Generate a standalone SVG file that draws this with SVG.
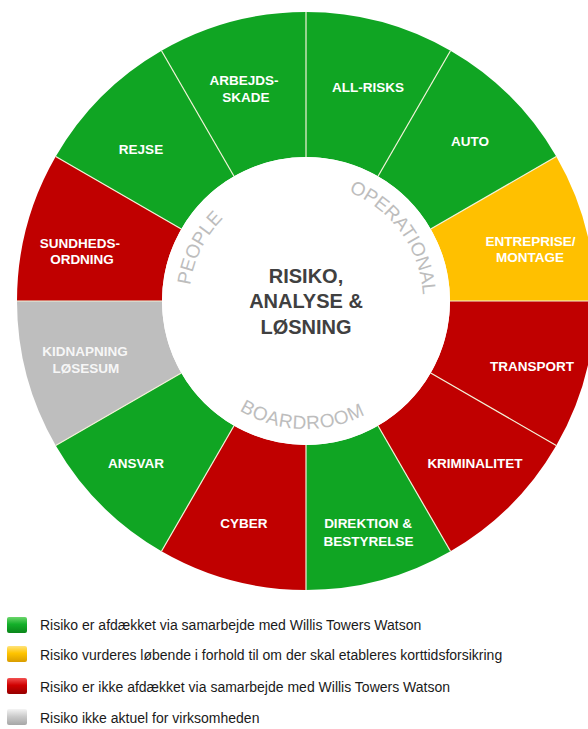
<svg xmlns="http://www.w3.org/2000/svg" width="588" height="729" viewBox="0 0 588 729">
<style>
.seg{stroke:none}
.g{fill:#10a523}.r{fill:#c00000}.y{fill:#ffc000}.s{fill:#bebebe}
.lbl{font-family:"Liberation Sans",Arial,sans-serif;font-weight:bold;font-size:13.5px;fill:#ffffff;text-anchor:middle}
.ctr{font-family:"Liberation Sans",Arial,sans-serif;font-weight:bold;font-size:20px;fill:#404040;text-anchor:middle}
.arc{font-family:"Liberation Sans",Arial,sans-serif;font-size:19px;fill:#bdbdbd}
.leg{font-family:"Liberation Sans",Arial,sans-serif;font-size:14px;fill:#1a1a1a}
.div{stroke:#f2f2d8;stroke-width:1.2;fill:none}
</style>
<defs>
<path id="cwPath" d="M306 184 A117 117 0 1 1 306 418 A117 117 0 1 1 306 184"/>
<path id="ccwPath" d="M306 173 A128 128 0 1 0 306 429 A128 128 0 1 0 306 173"/>
<linearGradient id="lgG" x1="0" y1="0" x2="0" y2="1"><stop offset="0" stop-color="#6bd66b"/><stop offset="0.45" stop-color="#14b02a"/><stop offset="1" stop-color="#0a861a"/></linearGradient>
<linearGradient id="lgY" x1="0" y1="0" x2="0" y2="1"><stop offset="0" stop-color="#ffe37a"/><stop offset="0.45" stop-color="#ffc400"/><stop offset="1" stop-color="#d99d00"/></linearGradient>
<linearGradient id="lgR" x1="0" y1="0" x2="0" y2="1"><stop offset="0" stop-color="#f25050"/><stop offset="0.45" stop-color="#d00000"/><stop offset="1" stop-color="#960000"/></linearGradient>
<linearGradient id="lgS" x1="0" y1="0" x2="0" y2="1"><stop offset="0" stop-color="#f4f4f4"/><stop offset="0.45" stop-color="#cccccc"/><stop offset="1" stop-color="#a6a6a6"/></linearGradient>
</defs>
<rect width="588" height="729" fill="#ffffff"/>

<g id="seg-allrisks"><path class="seg g" d="M306 12 A289 289 0 0 1 450.5 50.72 L378 176.29 A144 144 0 0 0 306 157 Z"/><text class="lbl" x="368" y="92">ALL-RISKS</text></g>
<g id="seg-auto"><path class="seg g" d="M450.5 50.72 A289 289 0 0 1 556.28 156.5 L430.71 229 A144 144 0 0 0 378 176.29 Z"/><text class="lbl" x="470" y="146">AUTO</text></g>
<g id="seg-entreprise"><path class="seg y" d="M556.28 156.5 A289 289 0 0 1 595 301 L450 301 A144 144 0 0 0 430.71 229 Z"/><text class="lbl" x="530.5" y="246">ENTREPRISE/</text><text class="lbl" x="530" y="262">MONTAGE</text></g>
<g id="seg-transport"><path class="seg r" d="M595 301 A289 289 0 0 1 556.28 445.5 L430.71 373 A144 144 0 0 0 450 301 Z"/><text class="lbl" x="532" y="371">TRANSPORT</text></g>
<g id="seg-kriminalitet"><path class="seg r" d="M556.28 445.5 A289 289 0 0 1 450.5 551.28 L378 425.71 A144 144 0 0 0 430.71 373 Z"/><text class="lbl" x="475" y="468">KRIMINALITET</text></g>
<g id="seg-direktion"><path class="seg g" d="M450.5 551.28 A289 289 0 0 1 306 590 L306 445 A144 144 0 0 0 378 425.71 Z"/><text class="lbl" x="368" y="528">DIREKTION &amp;</text><text class="lbl" x="368.5" y="546">BESTYRELSE</text></g>
<g id="seg-cyber"><path class="seg r" d="M306 590 A289 289 0 0 1 161.5 551.28 L234 425.71 A144 144 0 0 0 306 445 Z"/><text class="lbl" x="244" y="528">CYBER</text></g>
<g id="seg-ansvar"><path class="seg g" d="M161.5 551.28 A289 289 0 0 1 55.72 445.5 L181.29 373 A144 144 0 0 0 234 425.71 Z"/><text class="lbl" x="136" y="468">ANSVAR</text></g>
<g id="seg-kidnapning"><path class="seg s" d="M55.72 445.5 A289 289 0 0 1 17 301 L162 301 A144 144 0 0 0 181.29 373 Z"/><text class="lbl" x="85" y="356" fill-opacity="0.9">KIDNAPNING</text><text class="lbl" x="86" y="373" fill-opacity="0.9">LØSESUM</text></g>
<g id="seg-sundhed"><path class="seg r" d="M17 301 A289 289 0 0 1 55.72 156.5 L181.29 229 A144 144 0 0 0 162 301 Z"/><text class="lbl" x="80" y="248">SUNDHEDS-</text><text class="lbl" x="82" y="264">ORDNING</text></g>
<g id="seg-rejse"><path class="seg g" d="M55.72 156.5 A289 289 0 0 1 161.5 50.72 L234 176.29 A144 144 0 0 0 181.29 229 Z"/><text class="lbl" x="141" y="154">REJSE</text></g>
<g id="seg-arbejdsskade"><path class="seg g" d="M161.5 50.72 A289 289 0 0 1 306 12 L306 157 A144 144 0 0 0 234 176.29 Z"/><text class="lbl" x="244" y="85">ARBEJDS-</text><text class="lbl" x="246" y="102">SKADE</text></g>

<g id="dividers">
<line class="div" x1="306" y1="12" x2="306" y2="157"/>
<line class="div" x1="450.5" y1="50.72" x2="378" y2="176.29"/>
<line class="div" x1="556.28" y1="156.5" x2="430.71" y2="229"/>
<line class="div" x1="595" y1="301" x2="450" y2="301"/>
<line class="div" x1="556.28" y1="445.5" x2="430.71" y2="373"/>
<line class="div" x1="450.5" y1="551.28" x2="378" y2="425.71"/>
<line class="div" x1="306" y1="590" x2="306" y2="445"/>
<line class="div" x1="161.5" y1="551.28" x2="234" y2="425.71"/>
<line class="div" x1="55.72" y1="445.5" x2="181.29" y2="373"/>
<line class="div" x1="17" y1="301" x2="162" y2="301"/>
<line class="div" x1="55.72" y1="156.5" x2="181.29" y2="229"/>
<line class="div" x1="161.5" y1="50.72" x2="234" y2="176.29"/>
</g>

<g id="center">
<circle cx="306" cy="301" r="144" fill="#ffffff"/>
<text class="ctr" x="306" y="283">RISIKO,</text>
<text class="ctr" x="306" y="308">ANALYSE &amp;</text>
<text class="ctr" x="306" y="334">LØSNING</text>
</g>
<g id="ring-labels">
<text class="arc"><textPath href="#cwPath" startOffset="110.7" text-anchor="middle">OPERATIONAL</textPath></text>
<text class="arc"><textPath href="#cwPath" startOffset="605" text-anchor="middle">PEOPLE</textPath></text>
<text class="arc" letter-spacing="0.6"><textPath href="#ccwPath" startOffset="398" text-anchor="middle">BOARDROOM</textPath></text>
</g>

<g id="legend">
<rect x="7" y="617" width="20" height="16" rx="2" fill="url(#lgG)"/>
<text class="leg" x="40" y="630">Risiko er afdækket via samarbejde med Willis Towers Watson</text>
<rect x="7" y="646" width="20" height="16" rx="2" fill="url(#lgY)"/>
<text class="leg" x="40" y="660">Risiko vurderes løbende i forhold til om der skal etableres korttidsforsikring</text>
<rect x="7" y="678" width="20" height="16" rx="2" fill="url(#lgR)"/>
<text class="leg" x="40" y="692">Risiko er ikke afdækket via samarbejde med Willis Towers Watson</text>
<rect x="7" y="709" width="20" height="16" rx="2" fill="url(#lgS)"/>
<text class="leg" x="40" y="723">Risiko ikke aktuel for virksomheden</text>
</g>
</svg>
